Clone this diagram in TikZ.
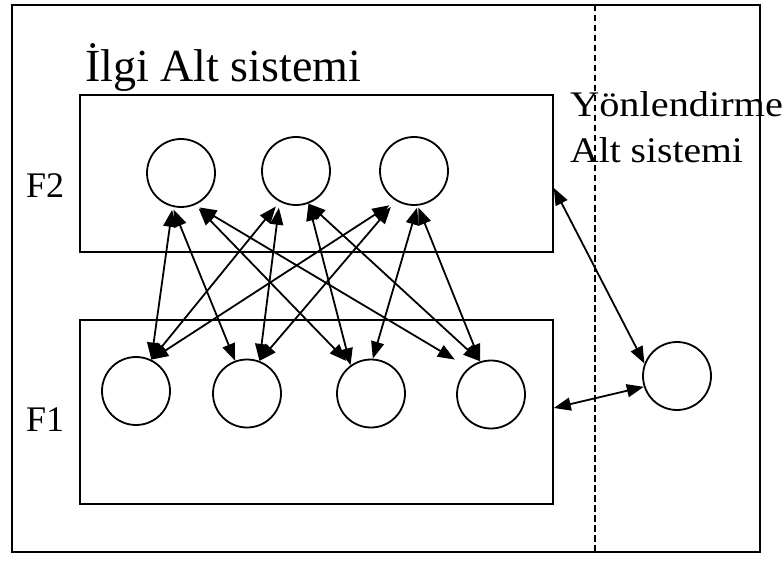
\documentclass[tikz,border=0pt]{standalone}
\usepackage{fontspec}
\setmainfont{Liberation Serif}
\usetikzlibrary{arrows.meta}
\begin{document}
\begin{tikzpicture}[x=1pt,y=-1pt,
  unit/.style={circle,draw,line width=1.8pt,minimum size=68pt,inner sep=0pt},
  layer/.style={draw,line width=1.6pt,inner sep=0pt},
  link/.style={{Triangle[length=17pt,width=13pt]}-{Triangle[length=17pt,width=13pt]},line width=1.8pt},
  lbl/.style={anchor=base west,inner sep=0pt,font=\fontsize{36}{42}\selectfont}]
\useasboundingbox (0,0) rectangle (783,569);
% outer frame and the dashed divider
\draw[line width=1.8pt] (12,5) rectangle (760,552);
\coordinate (divtop) at (595,5);
\coordinate (divbot) at (595,552);
\draw[line width=1.6pt,dash pattern=on 6.5pt off 3.5pt] (divtop) -- (divbot);
% layer boxes
\node[layer,minimum width=473pt,minimum height=157pt] (f2box) at (316.5,173.5) {};
\node[layer,minimum width=473pt,minimum height=184pt] (f1box) at (316.5,412) {};
% F2 units
\node[unit] (A) at (181,173) {};
\node[unit] (B) at (296,171) {};
\node[unit] (C) at (414,171) {};
% F1 units
\node[unit] (P) at (136,391) {};
\node[unit] (Q) at (247,393.5) {};
\node[unit] (R) at (371,393.5) {};
\node[unit] (S) at (491,394.5) {};
% orienting unit
\node[unit] (O) at (677,376) {};
% labels
\node[lbl,font=\fontsize{46}{50}\selectfont] (tattn) at (85,82) {İlgi Alt sistemi};
\node[lbl] (tf2) at (26,198) {F2};
\node[lbl] (tf1) at (26,431) {F1};
\node[lbl] (torient1) at (570,117) {\scalebox{1.12}[1]{Yönlendirme}};
\node[lbl] (torient2) at (570,163) {\scalebox{1.1}[1]{Alt sistemi}};
% bottom-up / top-down links
\draw[link,shorten <=3pt] (A.-104) -- (P.64);
\draw[link,shorten <=3pt] (A.-104) -- (Q.110);
\draw[link,shorten <=5pt,shorten >=6pt] (A.-66) -- (R.126);
\draw[link,shorten <=5pt,shorten >=16pt] (A.-66) -- (S.130);
\draw[link,shorten <=6pt] (B.-118) -- (P.64);
\draw[link,shorten <=6pt] (B.-118) -- (Q.69);
\draw[link] (B.-69) -- (R.126);
\draw[link] (B.-69) -- (S.108);
\draw[link,shorten <=8pt] (C.-121) -- (P.64);
\draw[link,shorten <=8pt] (C.-121) -- (Q.69);
\draw[link,shorten <=2pt] (C.-84) -- (R.87);
\draw[link,shorten <=2pt] (C.-84) -- (S.108);
% links to the orienting subsystem
\draw[link] ([yshift=-14.5pt]f2box.east) -- (O.159);
\draw[link] ([yshift=4pt]f1box.east) -- (O.198);
\end{tikzpicture}
\end{document}
